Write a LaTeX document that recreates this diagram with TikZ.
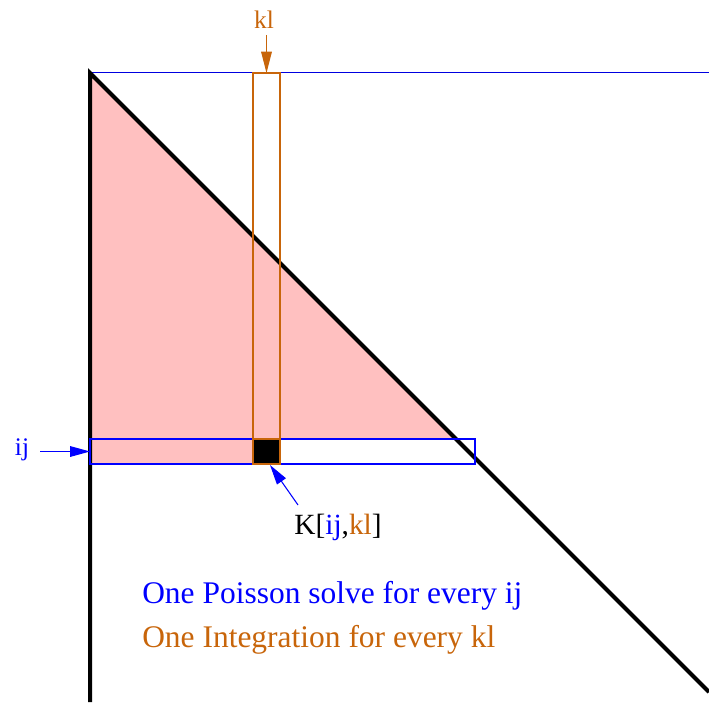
\documentclass[tikz,border=0pt]{standalone}
\usepackage{fontspec}
\setmainfont{Liberation Serif}
\usetikzlibrary{arrows.meta,positioning,calc}
\definecolor{Rowblue}{HTML}{0000FF}
\definecolor{Linenavy}{HTML}{0000E0}
\definecolor{Colorange}{HTML}{C8650A}
\definecolor{Lowpink}{HTML}{FFC0C0}

\begin{document}
\begin{tikzpicture}[x=0.75pt,y=-0.75pt,every node/.style={inner sep=0pt}]
      \useasboundingbox (0,0) rectangle (709,702);
      % corners of the matrix and of the ij row / kl column
      \coordinate (top) at (90,73);
      \coordinate (rowtl) at (90,439);
      \coordinate (rowbr) at (475,464);
      \coordinate (coltl) at (253,73);
      \coordinate (colbr) at (280,464);
      \coordinate (sqtl) at (253,439);
      \coordinate (rowmid) at (90,451.5);
      \coordinate (coltop) at (266.5,73);
      \coordinate (sqbot) at (270,465);

      % computed part
      \fill[Lowpink] (top) -- (rowtl) -- (456,439) -- cycle;
      \fill[Lowpink] (rowtl) rectangle (sqtl |- rowbr);

      \draw[Linenavy,line width=0.75pt] (top) -- (709,73);
      \draw[line width=3pt] (90,702) -- (top) -- (709,692);

      \draw[Colorange,line width=1.5pt] (coltl) rectangle (colbr);
      \draw[Rowblue,line width=1.5pt] (rowtl) rectangle (rowbr);
      \draw[Colorange,line width=1.5pt,fill=black] (sqtl) rectangle (colbr);

      % labels
      \node[font=\fontsize{19}{21}\selectfont,text=Colorange] (kl) at (264,20) {kl};
      \node[font=\fontsize{19}{21}\selectfont,text=Rowblue] (ij) at (22,450) {ij};
      \node[font=\fontsize{22}{24}\selectfont] (K) at (338,527)
        {K[\textcolor{Rowblue}{ij},\textcolor{Colorange}{kl}]};
      \coordinate (kfoot) at (298,505);

      \draw[-{Triangle[length=16pt,width=8pt]},Colorange,line width=0.8pt] (266.5,35) -- (coltop);
      \draw[-{Triangle[length=15pt,width=8pt]},Rowblue,line width=0.8pt] (40,451.5) -- (rowmid);
      \draw[-{Triangle[length=15pt,width=8pt]},Rowblue,line width=0.8pt] (kfoot) -- (sqbot);

      \node[anchor=base west,font=\fontsize{23.6}{28}\selectfont,text=Rowblue] (poisson) at (142,603) {One Poisson solve for every ij};
      \node[anchor=base west,font=\fontsize{23.6}{28}\selectfont,text=Colorange] (integ) at (142,647) {One Integration for every kl};
    \end{tikzpicture}
\end{document}
